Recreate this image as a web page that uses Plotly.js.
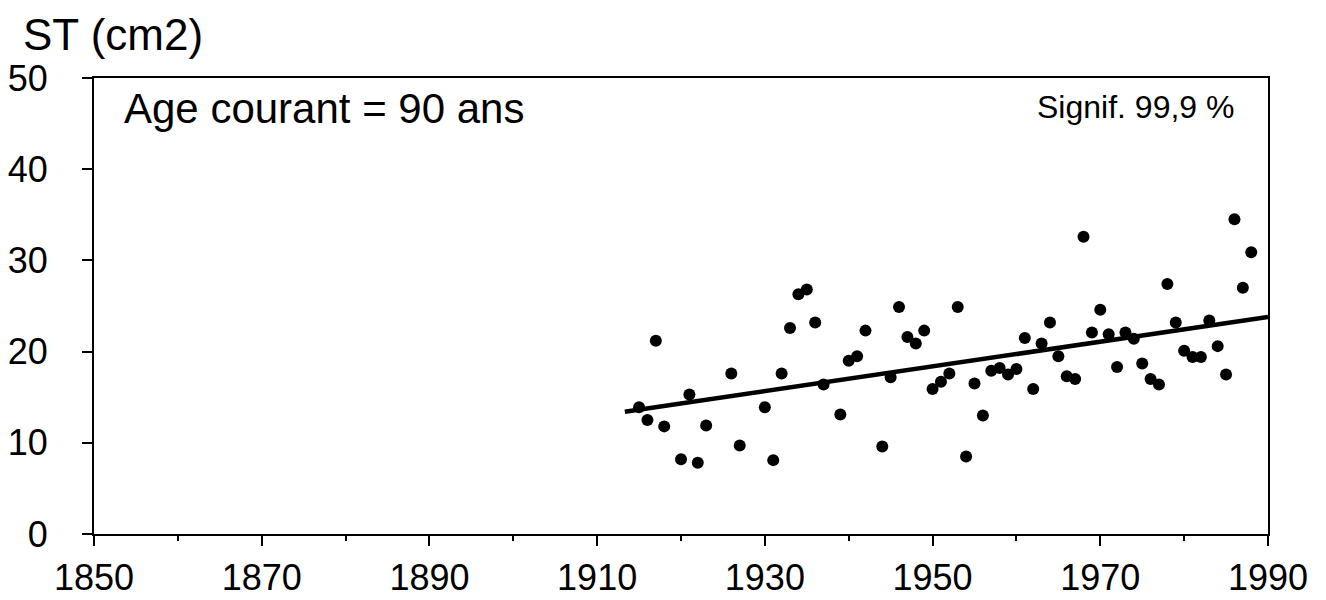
<!DOCTYPE html>
<html>
<head>
<meta charset="utf-8">
<script src="https://cdn.plot.ly/plotly-3.0.1.min.js"></script>
<style>html,body{margin:0;padding:0;background:#fff;}#chart{width:1326px;height:600px;}</style>
</head>
<body>
<div id="chart"></div>
<script>
const years = [1915,1916,1917,1918,1920,1921,1922,1923,1926,1927,1930,1931,1932,1933,1934,1935,1936,1937,1939,1940,1941,1942,1944,1945,1946,1947,1948,1949,1950,1951,1952,1953,1954,1955,1956,1957,1958,1959,1960,1961,1962,1963,1964,1965,1966,1967,1968,1969,1970,1971,1972,1973,1974,1975,1976,1977,1978,1979,1980,1981,1982,1983,1984,1985,1986,1987,1988];
const st = [13.9,12.5,21.2,11.8,8.2,15.3,7.8,11.9,17.6,9.7,13.9,8.1,17.6,22.6,26.3,26.8,23.2,16.4,13.1,19.0,19.5,22.3,9.6,17.2,24.9,21.6,20.9,22.3,15.9,16.7,17.6,24.9,8.5,16.5,13.0,17.9,18.2,17.5,18.1,21.5,15.9,20.9,23.2,19.5,17.3,17.0,32.6,22.1,24.6,21.9,18.3,22.1,21.4,18.7,17.0,16.4,27.4,23.2,20.1,19.4,19.4,23.4,20.6,17.5,34.5,27.0,30.9];
const trendYears = [1913.3, 1990];
const trendValues = [13.4, 23.8];
const xTicks = [1850,1870,1890,1910,1930,1950,1970,1990];
const yTicks = [0,10,20,30,40,50];

const FONT = '"Liberation Sans", Arial, Helvetica, sans-serif';

const data = [
  {x: years, y: st, type: 'scatter', mode: 'markers',
   marker: {color: '#000', size: 12}, showlegend: false, cliponaxis: false},
  {x: trendYears, y: trendValues, type: 'scatter', mode: 'lines',
   line: {color: '#000', width: 4.5}, showlegend: false}
];

const layout = {
  width: 1326, height: 600,
  margin: {l: 94, r: 58, t: 78, b: 66},
  paper_bgcolor: '#fff', plot_bgcolor: '#fff',
  font: {family: FONT, color: '#000', size: 32},
  xaxis: {
    range: [1850, 1990], tickvals: xTicks, ticktext: xTicks.map(String),
    ticks: 'outside', ticklen: 10, tickwidth: 2, tickcolor: '#000',
    minor: {dtick: 10, tick0: 1850, ticks: 'outside', ticklen: 5, tickwidth: 2, tickcolor: '#000', showgrid: false},
    showline: true, linecolor: '#000', linewidth: 2, mirror: true,
    showgrid: false, zeroline: false,
    tickfont: {family: FONT, size: 36, color: '#000'}, ticklabelstandoff: 1
  },
  yaxis: {
    range: [0, 50], tickvals: yTicks, ticktext: yTicks.map(String),
    ticks: 'outside', ticklen: 10, tickwidth: 2, tickcolor: '#000',
    showline: true, linecolor: '#000', linewidth: 2, mirror: true,
    showgrid: false, zeroline: false,
    tickfont: {family: FONT, size: 36, color: '#000'}, ticklabelstandoff: 27
  },
  annotations: [
    {text: 'ST (cm2)', xref: 'paper', yref: 'paper', x: -0.062, y: 1.037, xanchor: 'left', yanchor: 'bottom',
     showarrow: false, font: {family: FONT, size: 44, color: '#000'}},
    {text: 'Age courant = 90 ans', xref: 'paper', yref: 'paper', x: 0.024, y: 0.99, xanchor: 'left', yanchor: 'top',
     showarrow: false, font: {family: FONT, size: 42, color: '#000'}},
    {text: 'Signif. 99,9 %', xref: 'paper', yref: 'paper', x: 0.9725, y: 0.98, xanchor: 'right', yanchor: 'top',
     showarrow: false, font: {family: FONT, size: 32, color: '#000'}}
  ]
};

Plotly.newPlot('chart', data, layout, {staticPlot: true, displayModeBar: false});
</script>
</body>
</html>
